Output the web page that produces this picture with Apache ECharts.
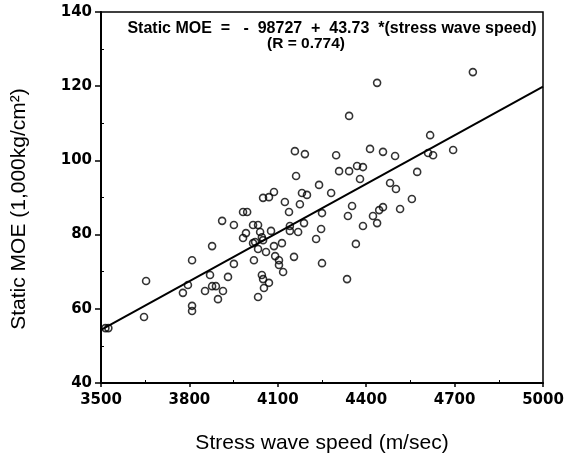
<!DOCTYPE html>
<html>
<head>
<meta charset="utf-8">
<script src="https://cdn.jsdelivr.net/npm/echarts@6/dist/echarts.min.js"></script>
<style>
  html, body { margin: 0; padding: 0; background: #fff; }
  #chart { width: 581px; height: 459px; }
</style>
</head>
<body>
<div id="chart"></div>
<script>
// stress wave speed (m/sec) and static MOE (1,000 kg/cm2)
const speed = [
  4158, 4192, 4162, 4240, 4182, 4199, 4050, 4070, 4087, 4124,
  4281, 3982, 3996, 4175, 4762, 4437, 4342, 4617, 4610, 4627,
  4695, 4413, 4457, 4498, 4298, 4308, 4342, 4369, 4389, 4379,
  4573, 4481, 4501, 4352, 4457, 4444, 4555, 4515, 3515, 3525,
  3646, 3653, 3778, 3795, 3809, 3809, 3809, 3853, 3870, 3877,
  3877, 3890, 3897, 3914, 3911, 3931, 3951, 3951, 3982, 3992,
  4016, 4033, 4016, 4023, 4040, 4046, 4050, 4019, 4033, 4033,
  4046, 4050, 4053, 4070, 4060, 4077, 4087, 4091, 4104, 4104,
  4114, 4118, 4138, 4141, 4141, 4169, 4155, 4189, 4230, 4247,
  4250, 4250, 4338, 4389, 4365, 4335, 4423, 4437
];
const moe = [
  102.5, 101.7, 95.8, 93.4, 91.2, 90.7, 89.9, 90.1, 91.5, 88.8,
  91.2, 86.1, 86.1, 88.2, 123.8, 120.9, 112.0, 106.8, 102.0, 101.4,
  102.8, 103.1, 102.3, 101.2, 101.4, 97.1, 97.1, 98.5, 98.2, 95.0,
  96.9, 93.9, 92.3, 87.7, 87.4, 86.6, 89.6, 86.9, 54.8, 54.8,
  57.8, 67.5, 64.3, 66.4, 73.1, 60.8, 59.4, 64.8, 69.1, 76.9,
  66.1, 66.1, 62.6, 64.8, 83.7, 68.6, 82.6, 72.1, 79.1, 80.4,
  82.6, 82.6, 77.7, 78.0, 80.7, 79.3, 78.5, 73.1, 76.1, 63.2,
  69.1, 68.0, 65.6, 67.0, 75.3, 81.0, 76.9, 74.2, 73.1, 71.8,
  77.7, 69.9, 86.1, 82.3, 81.0, 80.7, 74.0, 83.1, 78.8, 81.5,
  85.8, 72.3, 85.0, 82.3, 77.5, 68.0, 85.0, 83.1
];

// regression line end points (Static MOE = -98727 + 43.73 * speed)
const fitX = [3500, 5000];
const fitY = [54.3, 119.9];

const xTicks = [3500, 3800, 4100, 4400, 4700, 5000];
const xMinor = [3650, 3950, 4250, 4550, 4850];
const yMinor = [50, 70, 90, 110, 130];

const eqLine1 = "Static MOE  =   -  98727  +  43.73  *(stress wave speed)";
const eqLine2 = "(R = 0.774)";
const xTitle = "Stress wave speed (m/sec)";
const yTitle = "Static MOE (1,000kg/cm\u00B2)";

const tickFont = {color: "#000", fontFamily: "DejaVu Sans", fontWeight: "bold", fontSize: 15};

const chart = echarts.init(document.getElementById("chart"), null, {renderer: "canvas"});
chart.setOption({
  animation: false,
  backgroundColor: "#fff",
  grid: {left: 101, right: 38, top: 12, bottom: 76, show: true, borderColor: "#000", borderWidth: 1.5},
  xAxis: [{
    type: "value", min: 3500, max: 5000, position: "bottom",
    axisLine: {onZero: false, lineStyle: {color: "#000", width: 2}},
    axisTick: {length: 4, lineStyle: {color: "#000", width: 1.5}, customValues: xTicks},
    axisLabel: Object.assign({margin: 10, customValues: xTicks, formatter: v => String(v)}, tickFont),
    splitLine: {show: false},
  }, {
    type: "value", min: 3500, max: 5000, position: "bottom",
    axisLine: {show: false},
    axisTick: {inside: true, length: 3, lineStyle: {color: "#000", width: 1}, customValues: xMinor},
    axisLabel: {show: false},
    splitLine: {show: false},
  }],
  yAxis: [{
    type: "value", min: 40, max: 140, interval: 20,
    axisLine: {onZero: false, lineStyle: {color: "#000", width: 2}},
    axisTick: {length: 6, lineStyle: {color: "#000", width: 1.5}},
    axisLabel: Object.assign({margin: 9}, tickFont),
    splitLine: {show: false},
  }, {
    type: "value", min: 40, max: 140, position: "left",
    axisLine: {show: false},
    axisTick: {inside: true, length: 3, lineStyle: {color: "#000", width: 1}, customValues: yMinor},
    axisLabel: {show: false},
    splitLine: {show: false},
  }],
  graphic: [
    {type: "text", x: 332, y: 29, style: {text: eqLine1, align: "center", verticalAlign: "middle",
      fill: "#000", font: "bold 16px 'Liberation Sans'"}},
    {type: "text", x: 306, y: 44, style: {text: eqLine2, align: "center", verticalAlign: "middle",
      fill: "#000", font: "bold 15.5px 'Liberation Sans'"}},
    {type: "text", x: 322, y: 443, style: {text: xTitle, align: "center", verticalAlign: "middle",
      fill: "#000", font: "21px 'Liberation Sans'"}},
    {type: "text", x: 19, y: 209, rotation: Math.PI / 2, style: {text: yTitle, align: "center",
      verticalAlign: "middle", fill: "#000", font: "21px 'Liberation Sans'"}},
  ],
  series: [{
    type: "scatter",
    data: speed.map((s, i) => [s, moe[i]]),
    symbol: "circle",
    symbolSize: 7,
    itemStyle: {color: "rgba(0,0,0,0)", borderColor: "#000", borderWidth: 1.6},
  }, {
    type: "line",
    data: fitX.map((s, i) => [s, fitY[i]]),
    symbol: "none",
    lineStyle: {color: "#000", width: 2},
  }],
});
</script>
</body>
</html>
